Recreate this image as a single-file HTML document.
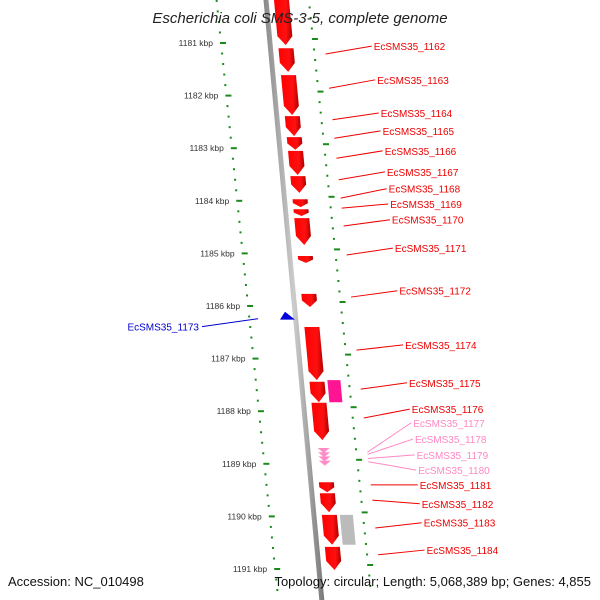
<!DOCTYPE html>
<html><head><meta charset="utf-8"><style>
body{margin:0;background:#fff;}
svg{display:block;font-family:"Liberation Sans",sans-serif;}
</style></head><body>
<svg id="map" width="600" height="600" viewBox="0 0 600 600">
<defs>
<linearGradient id="bb" x1="0" x2="1" y1="0" y2="0"><stop offset="0" stop-color="#888"/><stop offset="0.5" stop-color="#ccc"/><stop offset="1" stop-color="#777"/></linearGradient>
<linearGradient id="rg" x1="0" x2="1" y1="0" y2="0"><stop offset="0" stop-color="#ff0000"/><stop offset="0.65" stop-color="#ff1010"/><stop offset="1" stop-color="#b00000"/></linearGradient>
</defs>
<g id="layer"></g>
<text x="300" y="23" text-anchor="middle" font-style="italic" font-size="15" fill="#222">Escherichia coli SMS-3-5, complete genome</text>
<text x="8" y="586" font-size="13" fill="#111">Accession: NC_010498</text>
<text x="591" y="586" text-anchor="end" font-size="13" fill="#111">Topology: circular; Length: 5,068,389 bp; Genes: 4,855</text>
</svg>
<script>
const kbpTicks=[1181,1182,1183,1184,1185,1186,1187,1188,1189,1190,1191];
const geneStart=[1180.18,1181.10,1181.61,1182.39,1182.79,1183.05,1183.53,1183.97,1184.16,1184.33,1185.05,1185.77,1186.40,1187.44,1187.84,1189.35,1189.56,1189.97,1190.58];
const geneEnd=[1181.04,1181.55,1182.37,1182.77,1183.03,1183.51,1183.85,1184.12,1184.29,1184.84,1185.18,1186.02,1187.41,1187.83,1188.55,1189.54,1189.92,1190.54,1191.02];
const pinkStart=[1188.70,1188.78,1188.86,1188.94];
const sideStart=[1187.41,1189.97];
const sideEnd=[1187.83,1190.54];
const sideColor=["#ff1493","#bbbbbb"];
const labelNames=["EcSMS35_1162","EcSMS35_1163","EcSMS35_1164","EcSMS35_1165","EcSMS35_1166","EcSMS35_1167","EcSMS35_1168","EcSMS35_1169","EcSMS35_1170","EcSMS35_1171","EcSMS35_1172","EcSMS35_1174","EcSMS35_1175","EcSMS35_1176","EcSMS35_1177","EcSMS35_1178","EcSMS35_1179","EcSMS35_1180","EcSMS35_1181","EcSMS35_1182","EcSMS35_1183","EcSMS35_1184"];
const labelPos=[1181.06,1181.70,1182.33,1182.67,1183.05,1183.45,1183.77,1184.06,1184.36,1184.90,1185.71,1186.74,1187.46,1187.96,1188.22,1188.53,1188.83,1189.12,1189.40,1189.76,1190.12,1190.64];
const anchorPos=[1181.21,1181.86,1182.46,1182.81,1183.19,1183.60,1183.95,1184.14,1184.48,1185.03,1185.83,1186.84,1187.58,1188.13,1188.78,1188.82,1188.90,1188.96,1189.40,1189.69,1190.22,1190.73];
const labelColor=["r","r","r","r","r","r","r","r","r","r","r","r","r","r","p","p","p","p","r","r","r","r"];
const blueGene=[1186.11,1186.26];

const NS="http://www.w3.org/2000/svg";
const L=document.getElementById('layer');
function Y(k){return 43+(k-1181)*52.6;}
function leftX(y){return 220+(y-43)*0.103;}
function rightX(y){return 313+(y-49)*0.105;}
function bbX(y){return 266+y*0.093;}
function mk(t,a){const e=document.createElementNS(NS,t);for(const k in a)e.setAttribute(k,a[k]);L.appendChild(e);return e;}

let bb=mk('polygon',{points:`${bbX(0)-2.5},0 ${bbX(0)+2.5},0 ${bbX(600)+2.5},600 ${bbX(600)-2.5},600`,fill:'url(#bb)'});



for(let k=1180.2;k<=1191.6;k+=0.2){
  const y=Y(k);const major=Math.abs(k-Math.round(k))<0.01;
  const lx=leftX(y),rx=rightX(y-4);
  let d1=mk('line',{x1:lx,y1:y,x2:lx+(major?6:2),y2:y,stroke:'#1a8a1a','stroke-width':2});
  
  
  let d2=mk('line',{x1:rx,y1:y-4,x2:rx+(major?6:2),y2:y-4,stroke:'#1a8a1a','stroke-width':2});
  
  
}
kbpTicks.forEach(k=>{
  const y=Y(k);
  let t=mk('text',{x:leftX(y)-7,y:y+3,'text-anchor':'end','font-size':8.5,fill:'#333'});
  t.textContent=k+' kbp';
  
  
});

function geneShape(y1,y2,off,w,col){
  const tip=Math.min(9,(y2-y1)*0.5);
  const yb=y2-tip;
  const x=y=>bbX(y)+off;
  const p=[[x(y1),y1],[x(y1)+w,y1],[x(yb)+w,yb],[x(y2)+w/2,y2],[x(yb),yb]];
  return mk('polygon',{points:p.map(q=>q.join(',')).join(' '),fill:col});
}
geneStart.forEach((s,i)=>{
  let g=geneShape(Y(s),Y(geneEnd[i]),8,15,'url(#rg)');
  
  
});
sideStart.forEach((s,i)=>{
  const y1=Y(s),y2=Y(sideEnd[i]);const x=y=>bbX(y)+26;
  let r=mk('polygon',{points:`${x(y1)},${y1} ${x(y1)+13},${y1} ${x(y2)+13},${y2} ${x(y2)},${y2}`,fill:sideColor[i]});
  
  
});
pinkStart.forEach(s=>{
  const y=Y(s);const x=bbX(y)+10;
  let c=mk('polygon',{points:`${x},${y} ${x+12},${y} ${x+6},${y+5}`,fill:'#ff8cc6'});
  
  
});
{
  const y1=Y(blueGene[0]),y2=Y(blueGene[1]);const x=bbX(y1)-14;
  let b=mk('polygon',{points:`${x+4},${y1} ${x+14},${y2} ${x-1},${y2}`,fill:'#0000dd'});
  
  
  let bl=mk('line',{x1:bbX(y1)-37,y1:(y1+y2)/2+3,x2:202,y2:Y(1186.26)+7,stroke:'#0000cc','stroke-width':1});
  
  
  let bt=mk('text',{x:199,y:Y(1186.26)+11,'text-anchor':'end','font-size':10,fill:'#0000cc'});
  bt.textContent='EcSMS35_1173';
  
  
}
labelNames.forEach((n,i)=>{
  const yl=Y(labelPos[i]),ya=Y(anchorPos[i]);
  const col=labelColor[i]==='r'?'#ee0000':'#ff88c4';
  const lx=rightX(yl)+61;
  let ln=mk('line',{x1:rightX(ya)+12,y1:ya,x2:lx-2,y2:yl,stroke:col,'stroke-width':1});
  
  
  let t=mk('text',{x:lx,y:yl+4,'font-size':10,fill:col});
  t.textContent=n;
  
  
});
</script>
</body></html>
